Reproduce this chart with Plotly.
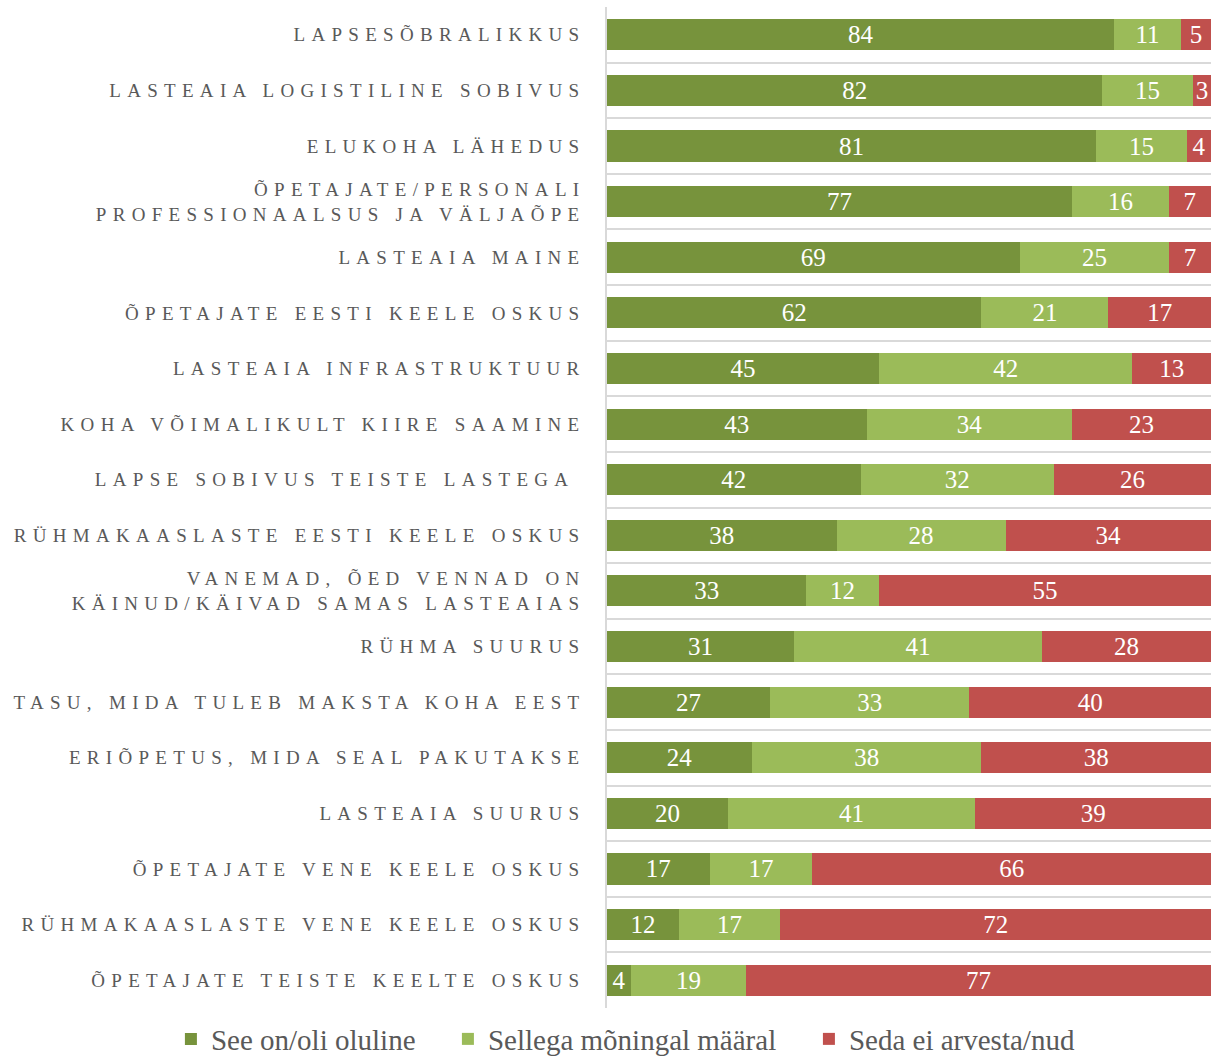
import plotly.graph_objects as go

categories = [
    "LAPSESÕBRALIKKUS",
    "LASTEAIA LOGISTILINE SOBIVUS",
    "ELUKOHA LÄHEDUS",
    "ÕPETAJATE/PERSONALI<br>PROFESSIONAALSUS JA VÄLJAÕPE",
    "LASTEAIA MAINE",
    "ÕPETAJATE EESTI KEELE OSKUS",
    "LASTEAIA INFRASTRUKTUUR",
    "KOHA VÕIMALIKULT KIIRE SAAMINE",
    "LAPSE SOBIVUS TEISTE LASTEGA\u00a0",
    "RÜHMAKAASLASTE EESTI KEELE OSKUS",
    "VANEMAD, ÕED VENNAD ON<br>KÄINUD/KÄIVAD SAMAS LASTEAIAS",
    "RÜHMA SUURUS",
    "TASU, MIDA TULEB MAKSTA KOHA EEST",
    "ERIÕPETUS, MIDA SEAL PAKUTAKSE",
    "LASTEAIA SUURUS",
    "ÕPETAJATE VENE KEELE OSKUS",
    "RÜHMAKAASLASTE VENE KEELE OSKUS",
    "ÕPETAJATE TEISTE KEELTE OSKUS",
]
oluline = [84, 82, 81, 77, 69, 62, 45, 43, 42, 38, 33, 31, 27, 24, 20, 17, 12, 4]
moningal = [11, 15, 15, 16, 25, 21, 42, 34, 32, 28, 12, 41, 33, 38, 41, 17, 17, 19]
ei_arvesta = [5, 3, 4, 7, 7, 17, 13, 23, 26, 34, 55, 28, 40, 38, 39, 66, 72, 77]

series_names = ["See on/oli oluline", "Sellega mõningal määral", "Seda ei arvesta/nud"]
colors = ["#77933C", "#9BBB59", "#C0504D"]
legend_widths = [232, 316, None]

ypos = list(range(len(categories)))

fig = go.Figure()
for name, vals, col, lw in zip(series_names, [oluline, moningal, ei_arvesta], colors, legend_widths):
    fig.add_trace(go.Bar(
        y=ypos, x=vals, orientation="h", name=name,
        marker=dict(color=col, line=dict(width=0)),
        text=[str(v) for v in vals], textposition="inside", textangle=0,
        insidetextanchor="middle", constraintext="none",
        textfont=dict(color="white", size=25, family="Liberation Serif"),
        hoverinfo="x+name",
        legendwidth=lw,
    ))

fig.update_layout(
    barmode="stack", barnorm="percent", bargap=0.44,
    width=1213, height=1056,
    margin=dict(l=607, r=2, t=7, b=48, autoexpand=False),
    paper_bgcolor="white", plot_bgcolor="white",
    font=dict(family="Liberation Serif", color="#595959"),
    uniformtext=dict(mode=False),
    showlegend=True,
    legend=dict(orientation="h", x=-0.722, xanchor="left", y=-0.031, yanchor="middle",
                font=dict(size=29, color="#595959"), traceorder="normal",
                itemwidth=30),
)
fig.update_xaxes(range=[0, 100], showticklabels=False, showgrid=False, zeroline=False,
                 fixedrange=True, automargin=False)
fig.update_yaxes(
    range=[len(categories) - 0.5, -0.5], automargin=False,
    tickmode="array", tickvals=ypos, ticktext=categories,
    tickfont=dict(size=19, color="#595959", family="Liberation Serif"),
    showgrid=False, zeroline=False,
    showline=True, linecolor="#D9D9D9", linewidth=1.5,
    ticks="", ticklabelstandoff=16,
    minor=dict(tickmode="array", tickvals=[i - 0.5 for i in range(len(categories) + 1)],
               showgrid=True, gridcolor="#D9D9D9", gridwidth=1.5, ticks=""),
)

post = """
var s=document.createElement('style');
s.innerHTML='html,body{margin:0;padding:0;overflow:hidden;} .ytick text{letter-spacing:6.3px;}';
document.head.appendChild(s);
"""
fig.write_html("out.html", post_script=post, config={"displayModeBar": False})
